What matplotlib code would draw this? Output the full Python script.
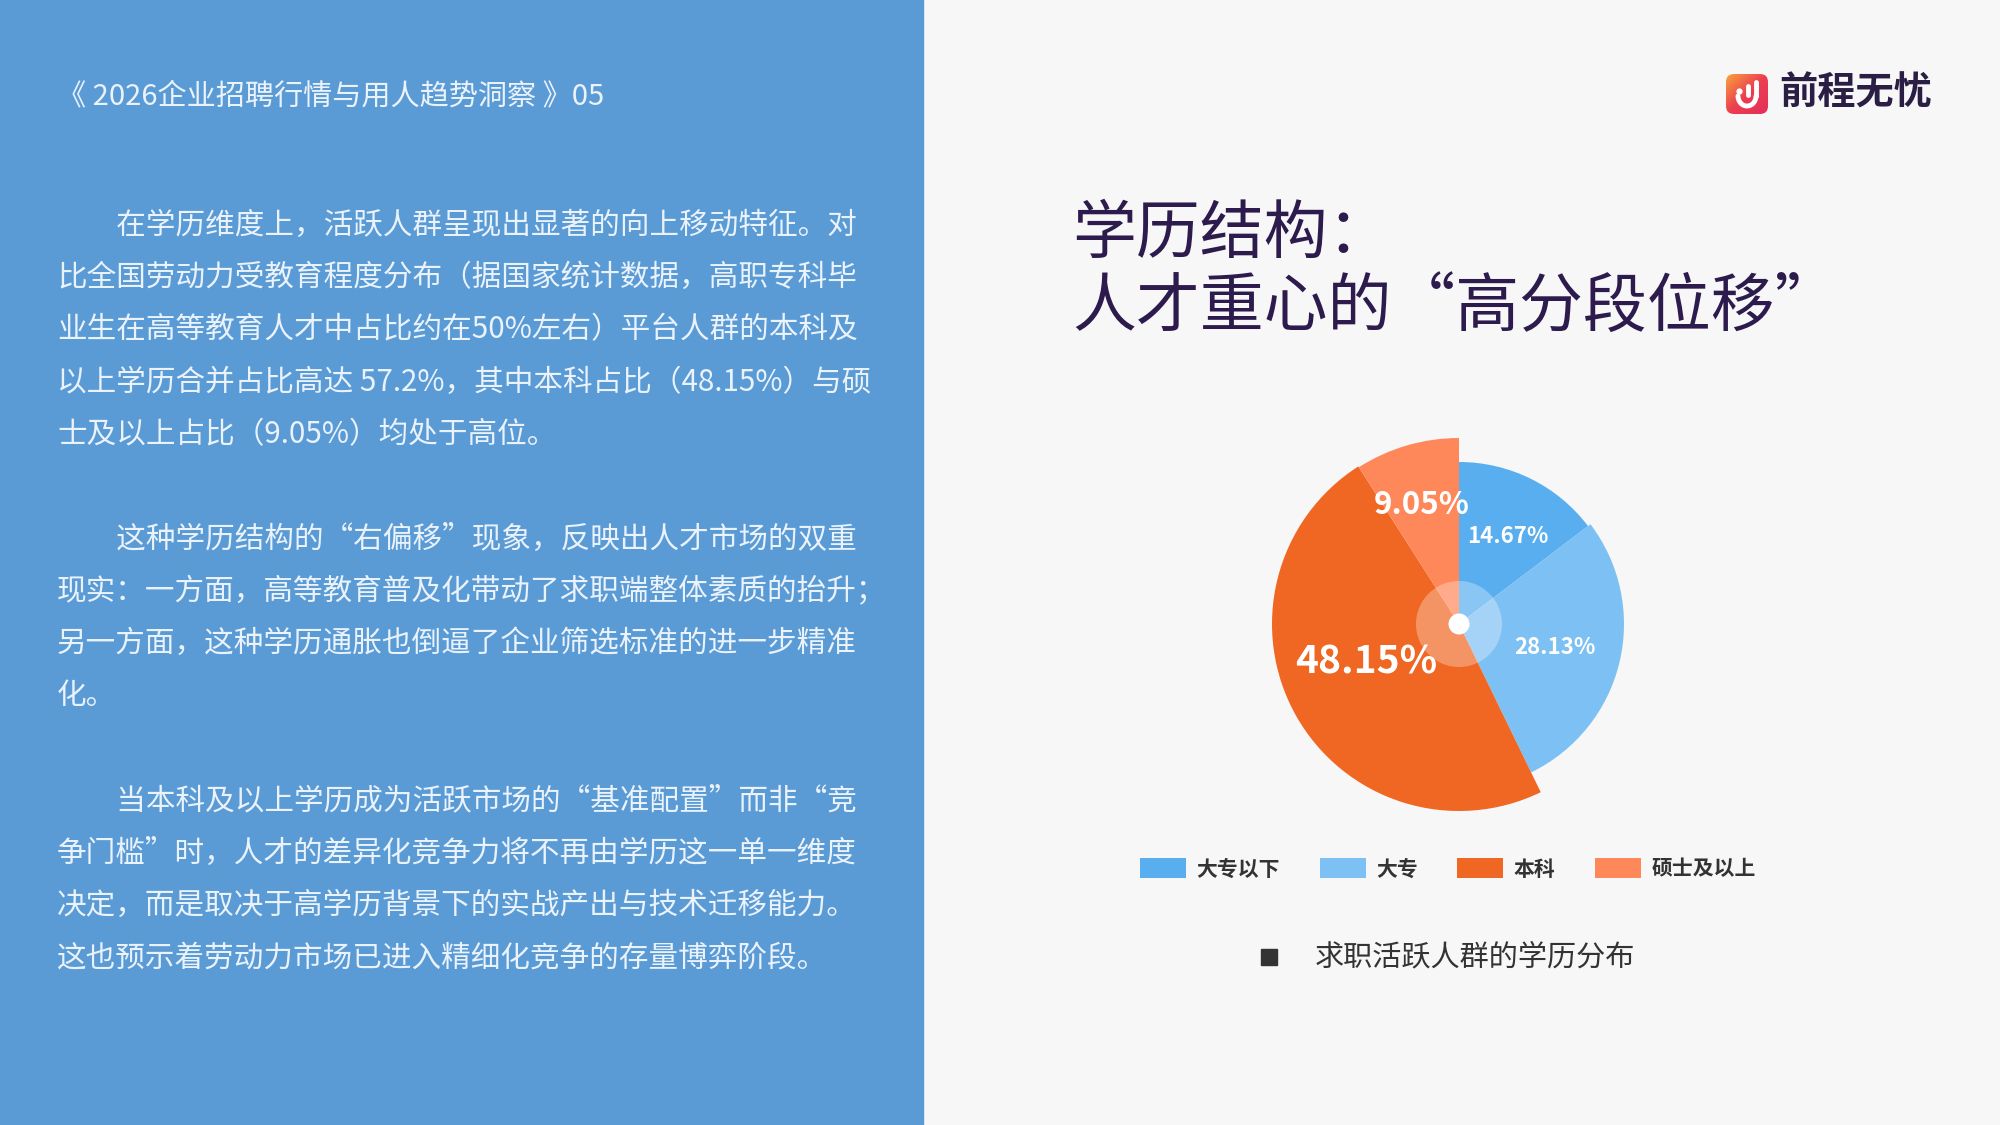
import numpy as np
import matplotlib.pyplot as plt
from matplotlib.patches import FancyBboxPatch, Circle, Rectangle

plt.rcParams['font.family'] = ['Noto Sans CJK SC', 'DejaVu Sans']

categories = ['大专以下', '大专', '本科', '硕士及以上']
shares = [14.67, 28.13, 48.15, 9.05]

header = '《 2026企业招聘行情与用人趋势洞察 》05'
title_lines = ['学历结构：', '人才重心的“高分段位移”']
caption = '求职活跃人群的学历分布'
brand = '前程无忧'
para1 = ['　　在学历维度上，活跃人群呈现出显著的向上移动特征。对',
         '比全国劳动力受教育程度分布（据国家统计数据，高职专科毕',
         '业生在高等教育人才中占比约在50%左右）平台人群的本科及',
         '以上学历合并占比高达 57.2%，其中本科占比（48.15%）与硕',
         '士及以上占比（9.05%）均处于高位。']
para2 = ['　　这种学历结构的“右偏移”现象，反映出人才市场的双重',
         '现实：一方面，高等教育普及化带动了求职端整体素质的抬升；',
         '另一方面，这种学历通胀也倒逼了企业筛选标准的进一步精准',
         '化。']
para3 = ['　　当本科及以上学历成为活跃市场的“基准配置”而非“竞',
         '争门槛”时，人才的差异化竞争力将不再由学历这一单一维度',
         '决定，而是取决于高学历背景下的实战产出与技术迁移能力。',
         '这也预示着劳动力市场已进入精细化竞争的存量博弈阶段。']

# styling
colors = ['#58AEEE', '#7DC1F4', '#F06623', '#FF885A']
radii = [162, 165, 187, 186]
label_size = [16, 16, 28, 22.5]
label_r = [100, 99, 100, 125]
label_turn = [-3, 0, -7, 1]

fig = plt.figure(figsize=(20, 11.25), dpi=100)
fig.patch.set_facecolor('#F7F7F7')
bg = fig.add_axes([0, 0, 1, 1])
bg.set_xlim(0, 2000)
bg.set_ylim(1125, 0)
bg.axis('off')
bg.add_patch(Rectangle((0, 0), 923, 1125, color='#5B9BD5', zorder=0))

# left panel text
txt = '#EAF2FB'
bg.text(57, 96, header, color=txt, fontsize=21, va='center')
for lines, y0 in [(para1, 225), (para2, 539), (para3, 801)]:
    for i, line in enumerate(lines):
        bg.text(57, y0 + i * 52.3, line, color=txt, fontsize=21.3, va='center')

# title
for i, line in enumerate(title_lines):
    bg.text(1072, 235 + i * 74, line, color='#2D1B4E', fontsize=46, va='center')

# logo
icon = FancyBboxPatch((1726, 74), 42, 40, boxstyle='round,pad=0,rounding_size=8',
                      facecolor='none', edgecolor='none')
bg.add_patch(icon)
grad = np.linspace(0, 1, 64)[None, :] + np.linspace(0, 1, 64)[:, None]
cmap = plt.matplotlib.colors.LinearSegmentedColormap.from_list('lg', ['#F9A23B', '#EC3F50', '#E52E5A'])
im = bg.imshow(grad, extent=(1726, 1768, 114, 74), cmap=cmap, aspect='auto', zorder=2)
im.set_clip_path(icon)
bg.plot([1756, 1756], [82, 96], color='white', lw=3.5, solid_capstyle='round', zorder=3)
t = np.linspace(0, np.pi, 30)
bg.plot(1747 + 9 * np.cos(t), 96 + 10 * np.sin(t), color='white', lw=3.5, solid_capstyle='round', zorder=3)
bg.plot([1748, 1748], [86, 95], color='white', lw=3.5, solid_capstyle='round', zorder=3)
bg.plot([1739], [91], 'o', color='white', ms=3.5, zorder=3)
bg.text(1779, 93, brand, color='#2A1E45', fontsize=27.5, fontweight='bold', va='center')

# pie
cx, cy = 1459, 624
ax = fig.add_axes([(cx - 200) / 2000, (1125 - cy - 200) / 1125, 400 / 2000, 400 / 1125])
wedges, _ = ax.pie(shares, colors=colors, startangle=90, counterclock=False,
                   radius=187, frame=False)
ax.set_xlim(-200, 200)
ax.set_ylim(-200, 200)
ax.axis('off')
for w, r in zip(wedges, radii):
    w.set_radius(r)
for w, v, fs, r, turn in zip(wedges, shares, label_size, label_r, label_turn):
    a = np.deg2rad((w.theta1 + w.theta2) / 2 + turn)
    ax.text(r * np.cos(a), r * np.sin(a), f'{v:.2f}%', color='white', fontsize=fs,
            fontweight='bold', ha='center', va='center')
ax.add_patch(Circle((0, 0), 43, color='white', alpha=0.3, lw=0))
ax.add_patch(Circle((0, 0), 10.5, color='white', lw=0))

fig.legend(wedges, categories, ncol=4, loc='center',
           bbox_to_anchor=(1448 / 2000, (1125 - 869) / 1125), frameon=False,
           prop={'size': 15, 'weight': 'bold'}, labelcolor='#333333',
           handlelength=2.2, handleheight=1.1, handletextpad=0.5, columnspacing=1.9)

# caption
bg.add_patch(Rectangle((1261, 949), 16, 16, color='#333333'))
bg.text(1315, 957, caption, color='#333333', fontsize=21, va='center')

fig.savefig('out.png', dpi=100, facecolor=fig.get_facecolor())
